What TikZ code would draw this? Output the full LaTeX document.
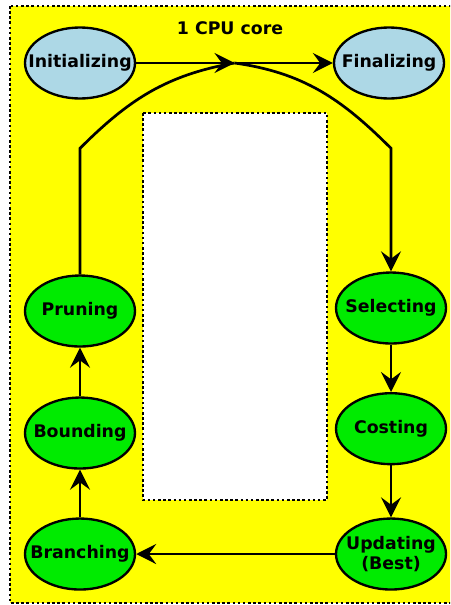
\documentclass[tikz,border=0pt]{standalone}
\usepackage{fontspec}
\setmainfont{DejaVu Sans}
\usepackage{xcolor}
\usepackage{tikz}
\usetikzlibrary{shapes.geometric, arrows.meta, positioning, calc}
\definecolor{coreyellow}{RGB}{255,255,0}
\definecolor{stepgreen}{RGB}{0,235,0}
\definecolor{endblue}{RGB}{173,216,230}
\tikzset{
  phase/.style={ellipse, draw, line width=2pt, minimum width=3.3cm, minimum height=2.13cm, inner sep=0pt},
  loop/.style={phase, fill=stepgreen},
  ends/.style={phase, fill=endblue},
  frame/.style={line width=2.2pt, dash pattern=on 2.2pt off 2.2pt},
  arrow/.style={-{Stealth[length=6mm, width=6mm, inset=2.2mm]}, line width=2.3pt},
  line/.style={line width=2.3pt},
}

\begin{document}
\begin{tikzpicture}[every node/.style={font=\fontsize{14.8}{17.5}\selectfont\bfseries}, every label/.style={align=center}]
    \useasboundingbox (0,0) rectangle (13.5,-18.15);
    \clip (0,0) rectangle (13.5,-18.15);
    % core frame and empty area
    \draw[frame, fill=coreyellow] (0.3,-0.18) rectangle (13.6,-18.09);
    \draw[frame, fill=white] (4.29,-3.39) rectangle (9.81,-15.0);
    \node (cpu) at (6.9,-0.84) {1 CPU core};
    % phases
    \node[ends, label={center:Initializing}] (init) at (2.4,-1.89) {};
    \node[ends, right=5.9cm of init, label={center:Finalizing}] (final) {};
    \node[loop, below=5.24cm of init, label={center:Pruning}] (prune) {};
    \node[loop, below=1.46cm of prune, label={center:Bounding}] (bound) {};
    \node[loop, below=1.43cm of bound, label={center:Branching}] (branch) {};
    \node[loop, right=5.96cm of branch, label={center:Updating\\(Best)}] (update) {};
    \node[loop, above=1.56cm of update, label={center:Costing}] (cost) {};
    \node[loop, above=1.42cm of cost, label={center:Selecting}] (select) {};
    \coordinate (hub) at ($(init.east)!0.5!(final.west)$);
    % connectors
    \draw[arrow] (init) -- (hub);
    \draw[arrow] (hub) -- (final);
    \draw[line] (prune.north) -- ++(0,3.78) to[out=45,in=190] (hub);
    \draw[arrow] (hub) to[out=-8,in=135] ($(select.north)+(0,3.69)$) -- (select.north);
    \draw[arrow] (select) -- (cost);
    \draw[arrow] (cost) -- (update);
    \draw[arrow] (update) -- (branch);
    \draw[arrow] (branch) -- (bound);
    \draw[arrow] (bound) -- (prune);
  \end{tikzpicture}
\end{document}
